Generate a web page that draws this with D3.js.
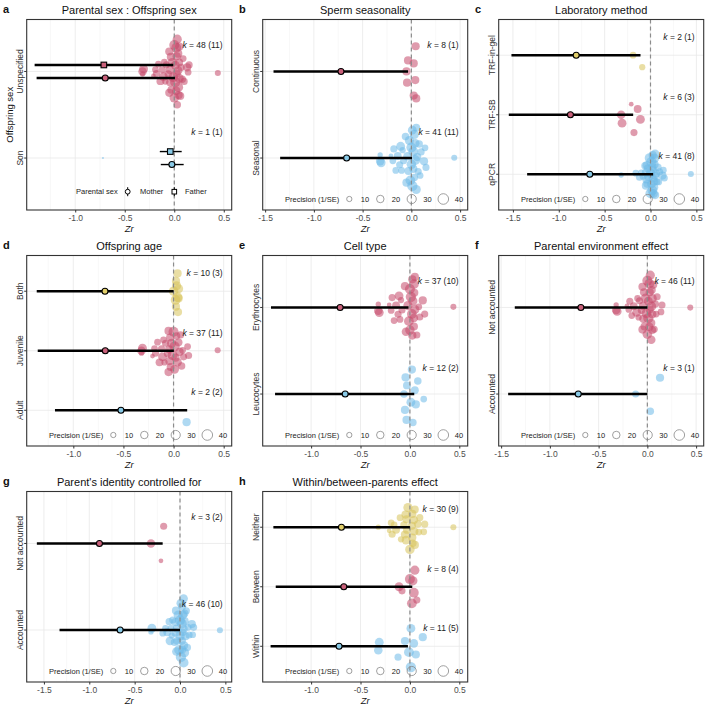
<!DOCTYPE html>
<html><head><meta charset="utf-8">
<script src="https://cdn.jsdelivr.net/npm/d3@7"></script>
<style>body{margin:0;background:#fff;} svg{display:block;font-family:"Liberation Sans",Arial,sans-serif;}</style>
</head><body><svg id="c" width="709" height="709"></svg>
<script>
// ---- effect sizes (49 effects, ids 1..49) ----
const zr = [-0.32,-0.31,-0.32,-0.21,-0.19,-0.18,-0.16,-0.14,-0.12,-0.11,
            -0.10,-0.09,-0.08,-0.06,-0.05,-0.04,-0.03,-0.02,-0.01,0.00,
             0.00,0.01,0.01,0.02,0.02,0.03,0.03,0.04,0.04,0.05,
             0.05,0.06,0.07,0.08,0.09,0.10,0.13,0.14,0.15,0.44,
            -0.72,0.044,-0.034,0.024,-0.05,0.04,-0.044,0.024,0.05];
const precision = [26,28,10,8,16,18,16,22,18,28,
                   16,14,18,20,24,26,22,30,34,36,
                   32,28,38,34,24,30,20,26,34,22,
                   30,24,18,20,16,18,24,16,18,13,
                   1.5,24,24,24,24,24,24,24,24];

// ---- moderator memberships (effect ids); remaining effects go to the "rest" level ----
const sexSon = [41];
const seasonContinuous = [42,43,44,45,46,47,48,49];
const methodInGel = [5,12];
const methodSB = [1,2,4,6,8,10];
const ageAdult = [37,41];
const ageBoth = [21,24,26,29,31,42,44,46,48,49];
const cellLeuco = [14,17,22,25,27,30,32,34,38,43,45,47];
const envAccounted = [9,27,37];
const identityNot = [1,4,6];
const parentsBetween = [10,13,20,24,26,29,31,33];
const parentsWithin = [1,2,9,15,19,22,23,28,32,37,41];

// ---- category levels (top to bottom) ----
const levA = ["Unspecified","Son"];
const levB = ["Continuous","Seasonal"];
const levC = ["TRF-in-gel","TRF-SB","qPCR"];
const levD = ["Both","Juvenile","Adult"];
const levE = ["Erythrocytes","Leucocytes"];
const levF = ["Not accounted","Accounted"];
const levG = ["Not accounted","Accounted"];
const levH = ["Neither","Between","Within"];

// ---- model estimates (top to bottom) ----
const meanA = [[-0.711,-0.697],[-0.040,-0.024]]; // [Father, Mother]
const lowA  = [[-1.41,-1.39],[-0.146,-0.136]];
const highA = [[-0.01,0.007],[0.075,0.095]];
const meanB = [-0.722,-0.664], lowB = [-1.414,-1.346], highB = [-0.034,0.007];
const meanC = [-0.81,-0.873,-0.662], lowC = [-1.516,-1.545,-1.345], highC = [-0.109,-0.189,0.029];
const meanD = [-0.684,-0.681,-0.525], lowD = [-1.365,-1.355,-1.183], highD = [0.0,0.003,0.136];
const meanE = [-0.706,-0.655], lowE = [-1.406,-1.365], highE = [-0.014,0.044];
const meanF = [-0.682,-0.709], lowF = [-1.36,-1.428], highF = [0.0,0.0];
const meanG = [-0.888,-0.66], lowG = [-1.578,-1.328], highG = [-0.191,0.0];
const meanH = [-0.693,-0.669,-0.717], lowH = [-1.382,-1.358,-1.41], highH = [0.0,0.024,-0.02];

// ---- k (number of studies) ----
const kA = [48,1], studA = [11,1];
const kB = [8,41], studB = [1,11];
const kC = [2,6,41], studC = [1,3,8];
const kD = [10,37,2], studD = [3,11,2];
const kE = [37,12], studE = [10,2];
const kF = [46,3], studF = [11,1];
const kG = [3,46], studG = [2,10];
const kH = [30,8,11], studH = [9,4,5];

const ticksShort = [-1.0,-0.5,0.0,0.5];
const ticksLong = [-1.5,-1.0,-0.5,0.0,0.5];
const precLegend = [10,20,30,40];

const panels = [
 {L:"a", title:"Parental sex : Offspring sex", lev:levA, groups:{"Son":sexSon}, mean:meanA, low:lowA, high:highA, k:kA, s:studA, dom:[-1.49,0.58], ticks:ticksShort, ytitle:"Offspring sex", sexPanel:true},
 {L:"b", title:"Sperm seasonality", lev:levB, groups:{"Continuous":seasonContinuous}, mean:meanB, low:lowB, high:highB, k:kB, s:studB, dom:[-1.525,0.578], ticks:ticksLong},
 {L:"c", title:"Laboratory method", lev:levC, groups:{"TRF-in-gel":methodInGel,"TRF-SB":methodSB}, mean:meanC, low:lowC, high:highC, k:kC, s:studC, dom:[-1.655,0.58], ticks:ticksLong},
 {L:"d", title:"Offspring age", lev:levD, groups:{"Adult":ageAdult,"Both":ageBoth}, mean:meanD, low:lowD, high:highD, k:kD, s:studD, dom:[-1.465,0.58], ticks:ticksShort},
 {L:"e", title:"Cell type", lev:levE, groups:{"Leucocytes":cellLeuco}, mean:meanE, low:lowE, high:highE, k:kE, s:studE, dom:[-1.49,0.585], ticks:ticksShort},
 {L:"f", title:"Parental environment effect", lev:levF, groups:{"Accounted":envAccounted}, mean:meanF, low:lowF, high:highF, k:kF, s:studF, dom:[-1.525,0.578], ticks:ticksLong},
 {L:"g", title:"Parent's identity controlled for", lev:levG, groups:{"Not accounted":identityNot}, mean:meanG, low:lowG, high:highG, k:kG, s:studG, dom:[-1.69,0.57], ticks:ticksLong},
 {L:"h", title:"Within/between-parents effect", lev:levH, groups:{"Between":parentsBetween,"Within":parentsWithin}, mean:meanH, low:lowH, high:highH, k:kH, s:studH, dom:[-1.49,0.585], ticks:ticksShort}
];

// colours by level position counted from the bottom
const pointCol = ["#6eb9e8","#c4486a","#d7c35a"];
const meanCol  = ["#88c9e6","#c9607a","#e2cf6a"];

const COL=[0,236,472], ROW=[0,236,472];
const FL=26.7, FR=231.7, FT=19.5, FB=210;
const rScale = d3.scaleSqrt().domain([0,40]).range([0,5.3]);

// quasirandom (van der Corput) offsets, like ggbeeswarm
function vdc(n){let v=0,den=1;while(n>0){den*=2;v+=(n%2)/den;n=Math.floor(n/2);}return v;}
function quasi(xs,width){
  const n=xs.length; if(n<2) return xs.map(()=>0);
  const sd=d3.deviation(xs)||0;
  const s=[...xs].sort(d3.ascending);
  const iqr=d3.quantileSorted(s,0.75)-d3.quantileSorted(s,0.25);
  let lo=Math.min(sd, iqr/1.34); if(!(lo>0)) lo = sd>0?sd:(Math.abs(s[0])||1);
  const bw=0.9*lo*Math.pow(n,-0.2);
  const dens=xs.map(a=>d3.sum(xs,b=>Math.exp(-0.5*((a-b)/bw)**2)));
  const mx=d3.max(dens);
  const order=d3.range(n).sort((i,j)=>xs[i]-xs[j]||i-j);
  const off=new Array(n);
  order.forEach((idx,r)=>{off[idx]=(vdc(r+1)-0.5)*2*width*dens[idx]/mx;});
  return off;
}

const svg=d3.select("#c");
svg.append("rect").attr("width",709).attr("height",709).attr("fill","#fff");

panels.forEach((p,pi)=>{
  const ox=COL[pi%3], oy=ROW[Math.floor(pi/3)];
  const g=svg.append("g").attr("transform",`translate(${ox},${oy})`);
  const x=d3.scaleLinear().domain(p.dom).range([FL,FR]);
  const y=d3.scalePoint().domain(p.lev).range([FT,FB]).padding(0.6);
  const step=y.step();
  const n=p.lev.length;
  const colIdx=lev=>n-1-p.lev.indexOf(lev);

  // grid
  const minor=[];
  for(let t=-2;t<=1;t+=0.5){const m=t+0.25; if(m>p.dom[0]&&m<p.dom[1]) minor.push(m);}
  g.selectAll(".mn").data(minor).join("line").attr("x1",d=>x(d)).attr("x2",d=>x(d)).attr("y1",FT).attr("y2",FB).attr("stroke","#f3f3f3").attr("stroke-width",0.6);
  g.selectAll(".mj").data(p.ticks).join("line").attr("x1",d=>x(d)).attr("x2",d=>x(d)).attr("y1",FT).attr("y2",FB).attr("stroke","#e8e8e8").attr("stroke-width",0.8);
  g.selectAll(".hg").data(p.lev).join("line").attr("x1",FL).attr("x2",FR).attr("y1",d=>y(d)).attr("y2",d=>y(d)).attr("stroke","#e8e8e8").attr("stroke-width",0.8);

  // assign effects to levels
  const assigned=new Set(); const members={};
  p.lev.forEach(l=>{ if(p.groups[l]){ members[l]=p.groups[l].map(id=>id-1); p.groups[l].forEach(id=>assigned.add(id-1)); } });
  const restLev=p.lev.find(l=>!p.groups[l]);
  members[restLev]=zr.map((_,i)=>i).filter(i=>!assigned.has(i));

  // points
  p.lev.forEach(l=>{
    const ids=members[l];
    const xs=ids.map(i=>zr[i]);
    const off=quasi(xs,0.4);
    const pts=ids.map((i,j)=>({x:zr[i],pr:precision[i],o:off[j]}));
    g.append("g").selectAll("circle").data(pts).join("circle")
      .attr("cx",d=>x(d.x)).attr("cy",d=>y(l)-d.o*step).attr("r",d=>rScale(d.pr))
      .attr("fill",pointCol[colIdx(l)]).attr("fill-opacity",0.55);
  });

  // zero line
  g.append("line").attr("x1",x(0)).attr("x2",x(0)).attr("y1",FT).attr("y2",FB)
    .attr("stroke","#8c8c8c").attr("stroke-width",1.2).attr("stroke-dasharray","4,3");

  // estimates
  p.lev.forEach((l,li)=>{
    const c=meanCol[colIdx(l)];
    if(p.sexPanel){
      const dodge=[-0.075,0.075];
      [0,1].forEach(s=>{
        const yy=y(l)+dodge[s]*step;
        const lw = p.high[li][s]-p.low[li][s] > 0.5 ? 2.4 : 1.4;
        g.append("line").attr("x1",x(p.low[li][s])).attr("x2",x(p.high[li][s])).attr("y1",yy).attr("y2",yy).attr("stroke","#000").attr("stroke-width",lw);
        if(s===0){
          g.append("rect").attr("x",x(p.mean[li][s])-2.8).attr("y",yy-2.8).attr("width",5.6).attr("height",5.6).attr("fill",c).attr("stroke","#000").attr("stroke-width",1.1);
        } else {
          g.append("circle").attr("cx",x(p.mean[li][s])).attr("cy",yy).attr("r",3).attr("fill",c).attr("stroke","#000").attr("stroke-width",1.1);
        }
      });
    } else {
      const yy=y(l);
      g.append("line").attr("x1",x(p.low[li])).attr("x2",x(p.high[li])).attr("y1",yy).attr("y2",yy).attr("stroke","#000").attr("stroke-width",2.4);
      g.append("circle").attr("cx",x(p.mean[li])).attr("cy",yy).attr("r",3).attr("fill",c).attr("stroke","#000").attr("stroke-width",1.1);
    }
    // k label
    const t=g.append("text").attr("x",222.7).attr("y",y(l)-0.3*step+3).attr("text-anchor","end").attr("font-size",8.5).attr("fill","#222");
    t.append("tspan").attr("font-style","italic").text("k");
    t.append("tspan").text(` = ${p.k[li]} (${p.s[li]})`);
  });

  // frame
  g.append("rect").attr("x",FL).attr("y",FT).attr("width",FR-FL).attr("height",FB-FT).attr("fill","none").attr("stroke","#333").attr("stroke-width",1.1);

  // x axis
  const ax=g.append("g").attr("transform",`translate(0,${FB})`)
    .call(d3.axisBottom(x).tickValues(p.ticks).tickFormat(d=>d.toFixed(1)).tickSize(2.5).tickPadding(2.5));
  ax.select(".domain").remove();
  ax.selectAll(".tick line").attr("stroke","#333");
  ax.selectAll("text").attr("font-size",8.5).attr("fill","#4d4d4d").attr("font-family","Liberation Sans, Arial, sans-serif");
  g.append("text").attr("x",(FL+FR)/2).attr("y",231.5).attr("text-anchor","middle").attr("font-size",9.5).attr("font-style","italic").attr("fill","#111").text("Zr");

  // y axis
  p.lev.forEach(l=>{
    g.append("line").attr("x1",FL-2.5).attr("x2",FL).attr("y1",y(l)).attr("y2",y(l)).attr("stroke","#333");
    g.append("text").attr("transform",`translate(23.3,${y(l)}) rotate(-90)`).attr("text-anchor","middle").attr("font-size",8.5).attr("fill","#333").text(l);
  });
  if(p.ytitle){
    g.append("text").attr("transform",`translate(12.5,${(FT+FB)/2}) rotate(-90)`).attr("text-anchor","middle").attr("font-size",9.5).attr("fill","#111").text(p.ytitle);
  }

  // title & letter
  g.append("text").attr("x",(FL+FR)/2).attr("y",14).attr("text-anchor","middle").attr("font-size",11).attr("fill","#111").text(p.title);
  g.append("text").attr("x",3).attr("y",13).attr("font-size",11).attr("font-weight","bold").attr("fill","#111").text(p.L);

  // legends
  if(p.sexPanel){
    const ly=191.7;
    g.append("text").attr("x",76).attr("y",ly+2.6).attr("font-size",7.5).attr("fill","#222").text("Parental sex");
    g.append("line").attr("x1",127.7).attr("x2",127.7).attr("y1",ly-4.5).attr("y2",ly+4.5).attr("stroke","#000").attr("stroke-width",1);
    g.append("circle").attr("cx",127.7).attr("cy",ly).attr("r",2.4).attr("fill","#fff").attr("stroke","#000").attr("stroke-width",1);
    g.append("text").attr("x",140).attr("y",ly+2.6).attr("font-size",7.5).attr("fill","#222").text("Mother");
    g.append("line").attr("x1",174.3).attr("x2",174.3).attr("y1",ly-4.5).attr("y2",ly+4.5).attr("stroke","#000").attr("stroke-width",1);
    g.append("rect").attr("x",174.3-2.3).attr("y",ly-2.3).attr("width",4.6).attr("height",4.6).attr("fill","#fff").attr("stroke","#000").attr("stroke-width",1);
    g.append("text").attr("x",185).attr("y",ly+2.6).attr("font-size",7.5).attr("fill","#222").text("Father");
  } else {
    const ly=199;
    g.append("text").attr("x",49).attr("y",ly+2.6).attr("font-size",7.5).attr("fill","#222").text("Precision (1/SE)");
    const cx=[113.3,144.3,175.7,207.3];
    precLegend.forEach((v,i)=>{
      g.append("circle").attr("cx",cx[i]).attr("cy",ly).attr("r",rScale(v)).attr("fill","none").attr("stroke","#888").attr("stroke-width",0.8);
      g.append("text").attr("x",cx[i]+15.7).attr("y",ly+2.6).attr("text-anchor","middle").attr("font-size",7.5).attr("fill","#222").text(v);
    });
  }
});
</script>
</body></html>
